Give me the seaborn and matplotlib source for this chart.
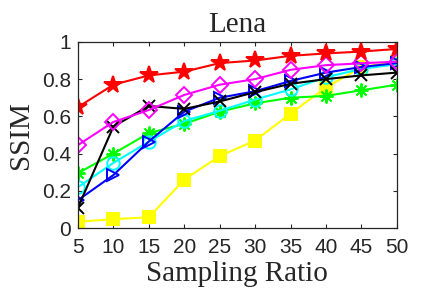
import numpy as np
import pandas as pd
import matplotlib
matplotlib.use('Agg')
import matplotlib.pyplot as plt
import seaborn as sns

ratio = [5, 10, 15, 20, 25, 30, 35, 40, 45, 50]

ssim_yellow = [0.034, 0.048, 0.058, 0.26, 0.387, 0.47, 0.615, 0.755, 0.865, 0.893]
ssim_green = [0.295, 0.40, 0.51, 0.56, 0.625, 0.67, 0.70, 0.71, 0.74, 0.77]
ssim_cyan = [0.22, 0.35, 0.464, 0.575, 0.63, 0.69, 0.745, 0.81, 0.855, 0.88]
ssim_blue = [0.15, 0.285, 0.465, 0.625, 0.70, 0.735, 0.79, 0.835, 0.865, 0.886]
ssim_black = [0.11, 0.545, 0.656, 0.64, 0.68, 0.73, 0.775, 0.80, 0.82, 0.835]
ssim_magenta = [0.446, 0.57, 0.634, 0.715, 0.77, 0.80, 0.85, 0.875, 0.885, 0.894]
ssim_red = [0.65, 0.77, 0.82, 0.84, 0.886, 0.90, 0.925, 0.938, 0.948, 0.962]

sns.set_style('ticks')
plt.rcParams['font.family'] = ['Liberation Serif', 'DejaVu Serif']

fig = plt.figure(figsize=(4.38, 2.97), dpi=100)
ax = fig.add_axes([0.178, 0.232, 0.728, 0.627])

# (values, colour, marker, filled, size)
series = [
    (ssim_yellow, (1, 1, 0), 's', True, 9),
    (ssim_green, (0, 1, 0), (8, 2, 0), False, 10),
    (ssim_cyan, (0, 1, 1), 'o', False, 9),
    (ssim_blue, (0, 0, 1), '>', False, 9),
    (ssim_black, 'k', 'x', False, 8),
    (ssim_magenta, (1, 0, 1), 'D', False, 8),
    (ssim_red, (1, 0, 0), '*', True, 13),
]

for vals, col, mk, filled, ms in series:
    df = pd.DataFrame({'ratio': ratio, 'ssim': vals})
    sns.lineplot(data=df, x='ratio', y='ssim', ax=ax, color=col, marker=mk,
                 markersize=ms, linewidth=1.5,
                 markerfacecolor=col if filled else 'none',
                 markeredgecolor=col, markeredgewidth=1.4)

ax.set_xlim(5, 50)
ax.set_ylim(0, 1)
ax.set_xticks(ratio)
ax.set_yticks([0, 0.2, 0.4, 0.6, 0.8, 1])
ax.set_yticklabels(['0', '0.2', '0.4', '0.6', '0.8', '1'])
for lab in ax.get_xticklabels() + ax.get_yticklabels():
    lab.set_family('Liberation Sans')
    lab.set_fontsize(15)
ax.tick_params(direction='in', top=True, right=True, length=3, width=0.8)
ax.tick_params(axis='x', pad=7)
ax.tick_params(axis='y', pad=5)
for s in ax.spines.values():
    s.set_visible(True)
    s.set_linewidth(0.9)
    s.set_color('#262626')
ax.set_title('Lena', fontsize=21, pad=7)
ax.set_xlabel('Sampling Ratio', fontsize=21, labelpad=3)
ax.set_ylabel('SSIM', fontsize=21, labelpad=6)

fig.savefig('out.png', dpi=100)
